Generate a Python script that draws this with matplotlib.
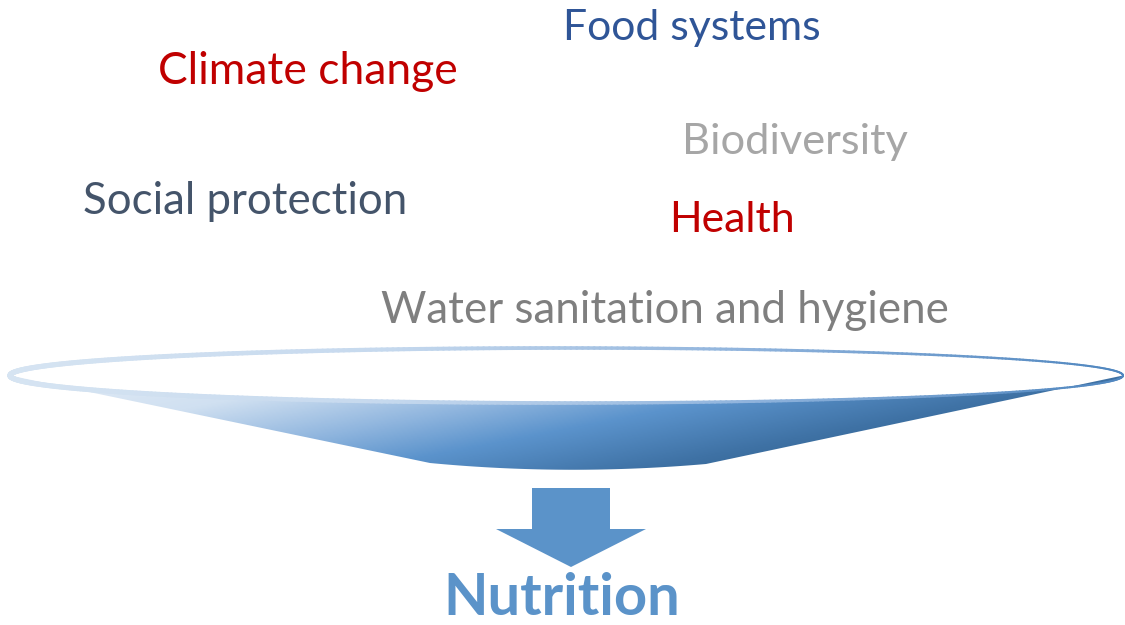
import numpy as np
import matplotlib
matplotlib.use("Agg")
import matplotlib.pyplot as plt
from matplotlib.patches import Polygon
from matplotlib.collections import LineCollection
from matplotlib.colors import LinearSegmentedColormap

# ---- content ----
labels = ["Food systems", "Climate change", "Biodiversity", "Social protection",
          "Health", "Water sanitation and hygiene"]
label_colors = ["#2f5597", "#c00000", "#a6a6a6", "#44546a", "#c00000", "#7f7f7f"]
result_label = "Nutrition"
result_color = "#5b93c9"

# ---- layout (pixels: left x, baseline y, target width) ----
label_layout = [(563, 40, 258), (158, 84, 299), (682, 154, 226), (83, 214, 323),
                (669, 232, 126), (381, 323, 566)]
result_layout = (443, 615, 237)

W, H = 1125, 625
fig = plt.figure(figsize=(W / 100, H / 100), dpi=100)
ax = fig.add_axes([0, 0, 1, 1])
ax.set_xlim(0, W)
ax.set_ylim(H, 0)
ax.axis("off")

# ---- funnel ----
cx, cy, a, b = 566.5, 375.5, 556.5, 27.5
th = np.linspace(np.pi, 0, 200)
arc = np.column_stack([cx + a * np.cos(th), cy + b * np.sin(th)])
t = np.linspace(0, 1, 60)
p0, pc, p1 = np.array([706, 464]), np.array([567, 476]), np.array([430, 463])
bez = ((1 - t) ** 2)[:, None] * p0 + (2 * (1 - t) * t)[:, None] * pc + (t ** 2)[:, None] * p1
body = np.vstack([arc, bez, arc[:1]])
body_patch = Polygon(body, closed=True, facecolor="none", edgecolor="none")
ax.add_patch(body_patch)

cmap = LinearSegmentedColormap.from_list(
    "funnel", [(0.0, "#e4edf7"), (0.25, "#d0e0f1"), (0.45, "#8fb5de"),
               (0.6, "#5b93cc"), (0.8, "#3f72a5"), (1.0, "#2b5a84")])
xs = np.linspace(0, W, 600)
ys = np.linspace(340, 480, 150)
X, Y = np.meshgrid(xs, ys)
T = np.clip(((X - 10) / 1113) * 0.8 + ((Y - 375) / 95) * 0.35, 0, 1)
im = ax.imshow(cmap(T), extent=(0, W, 480, 340), origin="upper",
               interpolation="bilinear", aspect="auto", zorder=1)
im.set_clip_path(body_patch)

# ring with gradient colour and varying width
th2 = np.linspace(0, 2 * np.pi, 600)
ex = cx + a * np.cos(th2)
ey = cy + b * np.sin(th2)
pts = np.column_stack([ex, ey]).reshape(-1, 1, 2)
segs = np.concatenate([pts[:-1], pts[1:]], axis=1)
xm = (ex[:-1] + ex[1:]) / 2
u = (xm - cx + a) / (2 * a)
ring_cmap = LinearSegmentedColormap.from_list(
    "ring", ["#d6e4f2", "#c6d9ee", "#8fb3dc", "#4f86bf"])
lc = LineCollection(segs, colors=ring_cmap(u), linewidths=3.8 - 2.4 * u,
                    capstyle="round", zorder=2)
ax.add_collection(lc)

# ---- arrow ----
arrow = [(532, 488), (610, 488), (610, 529), (646, 529), (571, 567), (496, 529), (532, 529)]
ax.add_patch(Polygon(arrow, closed=True, facecolor=result_color, edgecolor="none", zorder=3))

# ---- text, sized to match widths ----
renderer = fig.canvas.get_renderer()

def fitted_text(s, x, y, width, color, weight="normal"):
    txt = ax.text(x, y, s, fontsize=30, color=color, ha="left", va="baseline",
                  family="Lato", weight=weight, zorder=4)
    w = txt.get_window_extent(renderer).width
    txt.set_fontsize(30 * width / w)
    return txt

for s, c, (x, y, w) in zip(labels, label_colors, label_layout):
    fitted_text(s, x, y, w, c)
fitted_text(result_label, *result_layout, result_color, weight="bold")

fig.savefig("out.png", dpi=100)
